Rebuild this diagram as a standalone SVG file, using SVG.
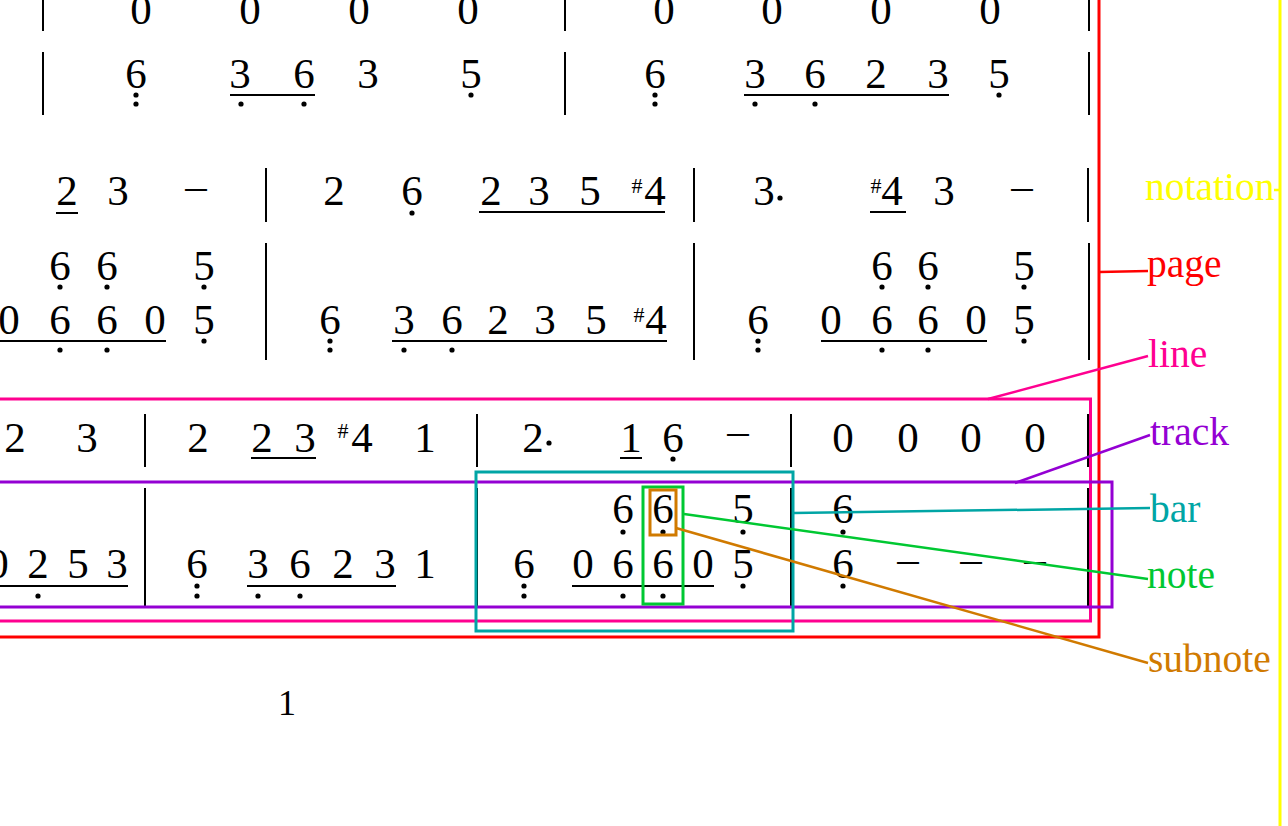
<svg xmlns="http://www.w3.org/2000/svg" width="1288" height="826" viewBox="0 0 1288 826">
<style>
.n{font-family:"Liberation Serif","Times New Roman",serif;font-size:43px;fill:#000;text-anchor:middle}
.s{font-family:"Liberation Serif","Times New Roman",serif;font-size:22px;fill:#000;text-anchor:middle}
.pg{font-family:"Liberation Serif","Times New Roman",serif;font-size:36px;fill:#000;text-anchor:middle}
.bl{stroke:#000;stroke-width:2;fill:none}
.ul{stroke:#000;stroke-width:2;fill:none}
.dot{fill:#000}
.box{fill:none;stroke-width:3}
.lab{font-family:"Liberation Serif","Times New Roman",serif;font-size:39.5px}
.con{fill:none;stroke-width:2.5}
</style>
<rect width="1288" height="826" fill="#fff"/>
<g id="score">
  <!-- Row A -->
  <g>
    <path class="bl" d="M43,0V31M565,0V31M1089,0V31"/>
    <text class="n" x="141" y="24">0</text><text class="n" x="250" y="24">0</text><text class="n" x="359" y="24">0</text><text class="n" x="468" y="24">0</text>
    <text class="n" x="664" y="24">0</text><text class="n" x="772" y="24">0</text><text class="n" x="881" y="24">0</text><text class="n" x="990" y="24">0</text>
  </g>
  <!-- Row B -->
  <g>
    <path class="bl" d="M43,52V115M565,52V115M1089,52V115"/>
    <text class="n" x="136" y="88">6</text>
    <text class="n" x="240" y="88">3</text><text class="n" x="304" y="88">6</text>
    <text class="n" x="368" y="88">3</text><text class="n" x="471" y="88">5</text>
    <text class="n" x="655" y="88">6</text>
    <text class="n" x="755" y="88">3</text><text class="n" x="815" y="88">6</text><text class="n" x="876" y="88">2</text><text class="n" x="938" y="88">3</text>
    <text class="n" x="999" y="88">5</text>
    <path class="ul" d="M230,95H315M744,95H949"/>
    <circle class="dot" cx="136" cy="95" r="2.6"/><circle class="dot" cx="136" cy="104" r="2.6"/>
    <circle class="dot" cx="241" cy="104" r="2.6"/><circle class="dot" cx="304" cy="104" r="2.6"/>
    <circle class="dot" cx="471" cy="95" r="2.6"/>
    <circle class="dot" cx="655" cy="95" r="2.6"/><circle class="dot" cx="655" cy="104" r="2.6"/>
    <circle class="dot" cx="755" cy="104" r="2.6"/><circle class="dot" cx="815" cy="104" r="2.6"/>
    <circle class="dot" cx="999" cy="95" r="2.6"/>
  </g>
  <!-- Row C -->
  <g>
    <path class="bl" d="M266,168V222M694,168V222M1088,168V222"/>
    <text class="n" x="67" y="205">2</text><text class="n" x="118" y="205">3</text>
    <text class="n" x="196" y="200">–</text>
    <text class="n" x="334" y="205">2</text><text class="n" x="412" y="205">6</text>
    <text class="n" x="491" y="205">2</text><text class="n" x="539" y="205">3</text><text class="n" x="590" y="205">5</text>
    <text class="s" x="637" y="193">#</text><text class="n" x="655" y="205">4</text>
    <text class="n" x="764" y="205">3</text><circle class="dot" cx="780" cy="198" r="2.6"/>
    <text class="s" x="876" y="193">#</text><text class="n" x="892" y="205">4</text>
    <text class="n" x="944" y="205">3</text>
    <text class="n" x="1022" y="200">–</text>
    <path class="ul" d="M56,213H78M479,212H665M870,212H906"/>
    <circle class="dot" cx="412" cy="213" r="2.6"/>
  </g>
  <!-- Row D -->
  <g>
    <path class="bl" d="M266,243V360M694,243V360M1089,243V360"/>
    <text class="n" x="60" y="280">6</text><text class="n" x="107" y="280">6</text><text class="n" x="204" y="280">5</text>
    <text class="n" x="882" y="280">6</text><text class="n" x="928" y="280">6</text><text class="n" x="1024" y="280">5</text>
    <circle class="dot" cx="60" cy="287" r="2.6"/><circle class="dot" cx="107" cy="287" r="2.6"/><circle class="dot" cx="204" cy="287" r="2.6"/>
    <circle class="dot" cx="882" cy="287" r="2.6"/><circle class="dot" cx="928" cy="287" r="2.6"/><circle class="dot" cx="1024" cy="287" r="2.6"/>
    <text class="n" x="9" y="334">0</text><text class="n" x="60" y="334">6</text><text class="n" x="107" y="334">6</text><text class="n" x="155" y="334">0</text><text class="n" x="204" y="334">5</text>
    <text class="n" x="330" y="334">6</text>
    <text class="n" x="404" y="334">3</text><text class="n" x="452" y="334">6</text><text class="n" x="498" y="334">2</text><text class="n" x="545" y="334">3</text><text class="n" x="596" y="334">5</text>
    <text class="s" x="639" y="322">#</text><text class="n" x="656" y="334">4</text>
    <text class="n" x="758" y="334">6</text>
    <text class="n" x="831" y="334">0</text><text class="n" x="882" y="334">6</text><text class="n" x="928" y="334">6</text><text class="n" x="976" y="334">0</text><text class="n" x="1024" y="334">5</text>
    <path class="ul" d="M-5,341H166M392,341H667M821,341H987"/>
    <circle class="dot" cx="60" cy="350" r="2.6"/><circle class="dot" cx="107" cy="350" r="2.6"/><circle class="dot" cx="204" cy="341" r="2.6"/>
    <circle class="dot" cx="330" cy="341" r="2.6"/><circle class="dot" cx="330" cy="350" r="2.6"/>
    <circle class="dot" cx="404" cy="350" r="2.6"/><circle class="dot" cx="452" cy="350" r="2.6"/>
    <circle class="dot" cx="758" cy="341" r="2.6"/><circle class="dot" cx="758" cy="350" r="2.6"/>
    <circle class="dot" cx="882" cy="350" r="2.6"/><circle class="dot" cx="928" cy="350" r="2.6"/><circle class="dot" cx="1024" cy="341" r="2.6"/>
  </g>
  <!-- Row E -->
  <g>
    <path class="bl" d="M145,414V467M477,414V467M791,414V467M1088,414V467"/>
    <text class="n" x="15" y="452">2</text><text class="n" x="87" y="452">3</text>
    <text class="n" x="198" y="452">2</text><text class="n" x="262" y="452">2</text><text class="n" x="305" y="452">3</text>
    <text class="s" x="343" y="438">#</text><text class="n" x="362" y="452">4</text>
    <text class="n" x="425" y="452">1</text>
    <text class="n" x="533" y="452">2</text><circle class="dot" cx="549" cy="443" r="2.6"/>
    <text class="n" x="631" y="452">1</text><text class="n" x="673" y="452">6</text>
    <text class="n" x="738" y="445">–</text>
    <text class="n" x="843" y="452">0</text><text class="n" x="908" y="452">0</text><text class="n" x="971" y="452">0</text><text class="n" x="1035" y="452">0</text>
    <path class="ul" d="M251,458H316M620,458H642"/>
    <circle class="dot" cx="673" cy="459" r="2.6"/>
  </g>
  <!-- Row F -->
  <g>
    <path class="bl" d="M145,488V606M477,488V606M791,488V606M1088,488V606"/>
    <text class="n" x="623" y="523">6</text><text class="n" x="663" y="523">6</text><text class="n" x="743" y="523">5</text><text class="n" x="843" y="523">6</text>
    <circle class="dot" cx="623" cy="532" r="2.6"/><circle class="dot" cx="663" cy="532" r="2.6"/><circle class="dot" cx="743" cy="532" r="2.6"/><circle class="dot" cx="843" cy="532" r="2.6"/>
    <text class="n" x="-2" y="578">0</text><text class="n" x="38" y="578">2</text><text class="n" x="78" y="578">5</text><text class="n" x="117" y="578">3</text>
    <text class="n" x="197" y="578">6</text>
    <text class="n" x="258" y="578">3</text><text class="n" x="300" y="578">6</text><text class="n" x="343" y="578">2</text><text class="n" x="385" y="578">3</text>
    <text class="n" x="425" y="578">1</text>
    <text class="n" x="524" y="578">6</text>
    <text class="n" x="583" y="578">0</text><text class="n" x="623" y="578">6</text><text class="n" x="663" y="578">6</text><text class="n" x="703" y="578">0</text><text class="n" x="743" y="578">5</text>
    <text class="n" x="843" y="578">6</text>
    <text class="n" x="908" y="573">–</text><text class="n" x="971" y="573">–</text><text class="n" x="1035" y="573">–</text>
    <path class="ul" d="M-5,586H128M247,586H396M572,586H714"/>
    <circle class="dot" cx="38" cy="596" r="2.6"/>
    <circle class="dot" cx="197" cy="586" r="2.6"/><circle class="dot" cx="197" cy="596" r="2.6"/>
    <circle class="dot" cx="258" cy="596" r="2.6"/><circle class="dot" cx="300" cy="596" r="2.6"/>
    <circle class="dot" cx="524" cy="586" r="2.6"/><circle class="dot" cx="524" cy="596" r="2.6"/>
    <circle class="dot" cx="623" cy="596" r="2.6"/><circle class="dot" cx="663" cy="596" r="2.6"/><circle class="dot" cx="743" cy="586" r="2.6"/>
    <circle class="dot" cx="843" cy="586" r="2.6"/>
  </g>
  <text class="pg" x="287" y="715">1</text>
</g>
<g id="notation">
  <rect class="box" x="-20" y="-20" width="1300" height="870" stroke="#ffff00"/>
  <text class="lab" x="1145" y="200" fill="#ffff00">notation</text>
</g>
<g id="page">
  <rect class="box" x="-20" y="-20" width="1119" height="657" stroke="#ff0000"/>
  <text class="lab" x="1147" y="277" fill="#ff0000">page</text>
</g>
<g id="line">
  <rect class="box" x="-20" y="399" width="1110.5" height="222" stroke="#ff0090"/>
  <text class="lab" x="1148" y="367" fill="#ff0090">line</text>
</g>
<g id="track">
  <rect class="box" x="-20" y="482" width="1132" height="125" stroke="#9400d3"/>
  <text class="lab" x="1150" y="445" fill="#9400d3">track</text>
</g>
<g id="bar">
  <rect class="box" x="476" y="472" width="317" height="159" stroke="#00a5a5" stroke-width="2.5"/>
  <text class="lab" x="1150" y="522" fill="#00a5a5">bar</text>
</g>
<g id="note">
  <rect class="box" x="643" y="487" width="40" height="117" stroke="#00c832" stroke-width="2.5"/>
  <text class="lab" x="1147" y="588" fill="#00c832">note</text>
</g>
<g id="subnote">
  <rect class="box" x="650" y="490" width="26" height="45" stroke="#d07a00"/>
  <text class="lab" x="1148" y="672" fill="#d07a00">subnote</text>
</g>
<g id="connectors">
  <line class="con" x1="1274" y1="190" x2="1280" y2="190" stroke="#ffff00"/>
  <line class="con" x1="1099" y1="272" x2="1148" y2="271" stroke="#ff0000"/>
  <line class="con" x1="988" y1="399" x2="1148" y2="356" stroke="#ff0090"/>
  <line class="con" x1="1015" y1="483" x2="1150" y2="435" stroke="#9400d3"/>
  <line class="con" x1="793" y1="513" x2="1150" y2="508" stroke="#00a5a5"/>
  <line class="con" x1="684" y1="514" x2="1148" y2="579" stroke="#00c832"/>
  <line class="con" x1="676" y1="528" x2="1148" y2="663" stroke="#d07a00"/>
</g>
</svg>
